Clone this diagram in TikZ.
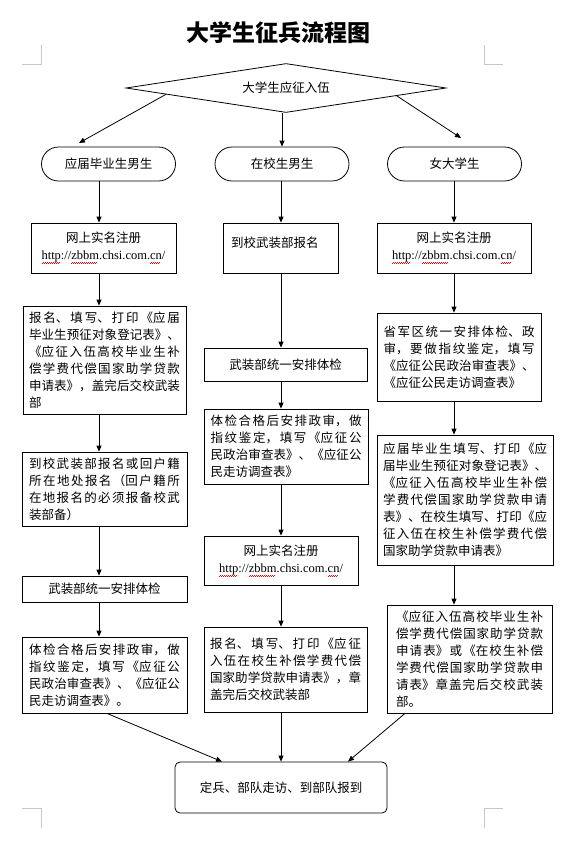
\documentclass[tikz,border=0pt]{standalone}
\usepackage{fontspec}
\setmainfont{Noto Sans CJK SC}
\newfontfamily\urlfont{Liberation Serif}
\usetikzlibrary{shapes.geometric,arrows.meta}
\XeTeXlinebreaklocale "zh"
\XeTeXlinebreakskip=0pt plus 3pt
\newsavebox{\cajaonda}
\newcommand{\onda}[1]{\sbox{\cajaonda}{#1}\rlap{\textcolor{red}{\makebox[\wd\cajaonda][l]{\leaders\hbox{\rule[-3.8pt]{1pt}{0.6pt}\rule[-2.9pt]{1pt}{0.6pt}}\hfill}}}#1}
\newcommand{\web}{{\urlfont\onda{http}://\onda{zbbm}.chsi.com.\onda{cn}/}}

\begin{document}
\begin{tikzpicture}[x=1pt,y=-1pt,
  every node/.style={font=\fontsize{12.5}{17}\selectfont},
  caja/.style={draw,line width=0.8pt,inner sep=0pt},
  capsula/.style={draw,line width=0.8pt,rounded corners=17pt,minimum width=134pt,minimum height=34pt},
  flecha/.style={line width=0.8pt,-{Triangle[length=6pt,width=5pt]}},
  marca/.style={gray!45,line width=0.6pt},
  texto/.style={text width=#1,align=justify}]

% Fondo
\fill[white] (0,0) rectangle (562,844);
\useasboundingbox (0,0) rectangle (562,844);

% Titulo
\node[font=\fontsize{23}{27}\selectfont\bfseries] (titulo) at (278,33) {大学生征兵流程图};

% Marcas de esquina
\draw[marca] (22,64) -- (41,64) -- (41,45);
\draw[marca] (503,64) -- (484,64) -- (484,45);
\draw[marca] (22,808) -- (41,808) -- (41,828);
\draw[marca] (503,808) -- (484,808) -- (484,828);

% Rombo y tres casos
\node[draw,line width=0.8pt,diamond,aspect=6.5,minimum width=320pt,minimum height=49pt,inner sep=0pt] (rombo) at (286,88) {大学生应征入伍};
\node[capsula] (grad) at (108.5,164) {应届毕业生男生};
\node[capsula] (escuela) at (282,164) {在校生男生};
\node[capsula] (mujer) at (454.5,164) {女大学生};

% Ejes de las columnas
\coordinate (ejeI) at (99,0);
\coordinate (ejeC) at (281,0);
\coordinate (ejeD) at (454,0);
\coordinate (pI) at (79,143);
\coordinate (pD) at (461,138);

% Columna izquierda
\node[caja,minimum width=145pt,minimum height=50pt,align=center] (i1) at (103.5,248) {网上实名注册\\\web};
\node[caja,minimum width=163pt,minimum height=108pt,texto=151pt] (i2) at (104.5,360) {报名、填写、打印《应届\linebreak 毕业生预征对象登记表》、\linebreak 《应征入伍高校毕业生补\linebreak 偿学费代偿国家助学贷款\linebreak 申请表》，盖完后交校武装\linebreak 部};
\node[caja,minimum width=165pt,minimum height=74pt,texto=151pt] (i3) at (104.5,489) {到校武装部报名或回户籍\linebreak 所在地处报名（回户籍所\linebreak 在地报名的必须报备校武\linebreak 装部备）};
\node[caja,minimum width=165pt,minimum height=26pt] (i4) at (104.5,589) {武装部统一安排体检};
\node[caja,minimum width=165pt,minimum height=76pt,texto=151pt] (i5) at (104.5,675) {体检合格后安排政审，做\linebreak 指纹鉴定，填写《应征公\linebreak 民政治审查表》、《应征公\linebreak 民走访调查表》。};

% Columna central
\node[caja,minimum width=115pt,minimum height=50pt,text width=99pt,align=left,text height=24.4pt,text depth=25.6pt] (c1) at (280.5,248) {到校武装部报名};
\node[caja,minimum width=163pt,minimum height=33pt] (c2) at (285.5,364.5) {武装部统一安排体检};
\node[caja,minimum width=164pt,minimum height=75pt,texto=151pt] (c3) at (286,446.5) {体检合格后安排政审，做\linebreak 指纹鉴定，填写《应征公\linebreak 民政治审查表》、《应征公\linebreak 民走访调查表》};
\node[caja,minimum width=154pt,minimum height=49pt,align=center] (c4) at (281,560.5) {网上实名注册\\\web};
\node[caja,minimum width=163pt,minimum height=85pt,texto=151pt] (c5) at (285.5,669.5) {报名、填写、打印《应征\linebreak 入伍在校生补偿学费代偿\linebreak 国家助学贷款申请表》，章\linebreak 盖完后交校武装部};

% Columna derecha
\node[caja,minimum width=154pt,minimum height=50pt,align=center] (d1) at (454,248) {网上实名注册\\\web};
\node[caja,minimum width=164pt,minimum height=88pt,texto=151pt] (d2) at (459,357) {省军区统一安排体检、政\linebreak 审，要做指纹鉴定，填写\linebreak 《应征公民政治审查表》、\linebreak 《应征公民走访调查表》};
\node[caja,minimum width=176pt,minimum height=130pt,texto=164pt] (d3) at (465,500) {应届毕业生填写、打印《应\linebreak 届毕业生预征对象登记表》、\linebreak 《应征入伍高校毕业生补偿\linebreak 学费代偿国家助学贷款申请\linebreak 表》、在校生填写、打印《应\linebreak 征入伍在校生补偿学费代偿\linebreak 国家助学贷款申请表》};
\node[caja,minimum width=165pt,minimum height=108pt,texto=147pt] (d4) at (469.5,659) {《应征入伍高校毕业生补\linebreak 偿学费代偿国家助学贷款\linebreak 申请表》或《在校生补偿\linebreak 学费代偿国家助学贷款申\linebreak 请表》章盖完后交校武装\linebreak 部。};

% Caja final
\node[caja,rounded corners=5pt,minimum width=212pt,minimum height=51pt] (fin) at (281,787.5) {定兵、部队走访、到部队报到};

% Flechas
\draw[flecha] (rombo.183) -- (pI);
\draw[flecha] (escuela.north |- rombo.south) -- (escuela.north);
\draw[flecha] (rombo.-4) -- (pD);

\draw[flecha] (grad.south -| ejeI) -- (i1.north -| ejeI);
\draw[flecha] (i1.south -| ejeI) -- (i2.north -| ejeI);
\draw[flecha] (i2.south -| ejeI) -- (i3.north -| ejeI);
\draw[flecha] (i3.south -| ejeI) -- (i4.north -| ejeI);
\draw[flecha] (i4.south -| ejeI) -- (i5.north -| ejeI);

\draw[flecha] (escuela.south -| ejeC) -- (c1.north -| ejeC);
\draw[flecha] (c1.south -| ejeC) -- (c2.north -| ejeC);
\draw[flecha] (c2.south -| ejeC) -- (c3.north -| ejeC);
\draw[flecha] (c3.south -| ejeC) -- (c4.north -| ejeC);
\draw[flecha] (c4.south -| ejeC) -- (c5.north -| ejeC);

\draw[flecha] (mujer.south -| ejeD) -- (d1.north -| ejeD);
\draw[flecha] (d1.south -| ejeD) -- (d2.north -| ejeD);
\draw[flecha] (d2.south -| ejeD) -- (d3.north -| ejeD);
\draw[flecha] (d3.south -| ejeD) -- (d4.north -| ejeD);

\draw[flecha] (i5.south -| 107,0) -- (fin.north -| 222,0);
\draw[flecha] (c5.south -| ejeC) -- (fin.north -| ejeC);
\draw[flecha] (d4.south -| 405,0) -- (fin.north -| 348,0);

\end{tikzpicture}
\end{document}
